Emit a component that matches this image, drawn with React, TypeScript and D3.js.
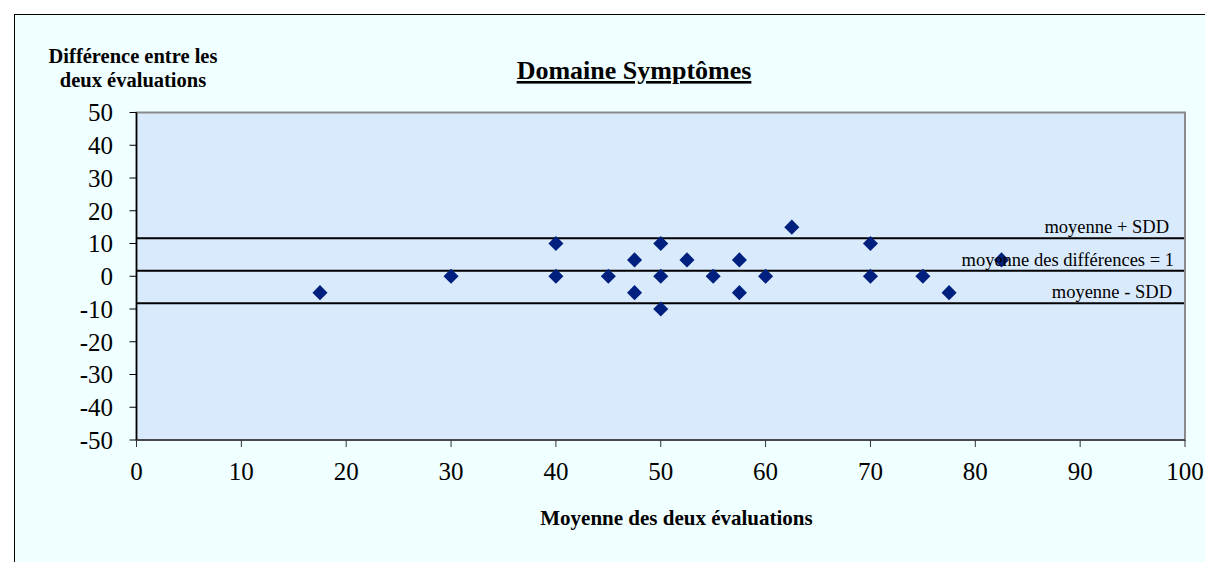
import React from "react";
import * as d3 from "d3";

const xValues = [17.5, 30, 40, 40, 45, 47.5, 47.5, 50, 50, 50, 52.5, 55, 57.5, 57.5, 60, 62.5, 70, 70, 75, 77.5, 82.5];
const yValues = [-5, 0, 10, 0, 0, 5, -5, 10, 0, -10, 5, 0, 5, -5, 0, 15, 10, 0, 0, -5, 5];
const xTicks = [0, 10, 20, 30, 40, 50, 60, 70, 80, 90, 100];
const yTicks = [50, 40, 30, 20, 10, 0, -10, -20, -30, -40, -50];
const meanDiff = 1.67;
const sdd = 9.93;
const refLines = [
  { value: meanDiff + sdd, label: "moyenne + SDD" },
  { value: meanDiff, label: "moyenne des différences = 1" },
  { value: meanDiff - sdd, label: "moyenne - SDD" },
];

const W = 1205;
const H = 562;
const plot = { left: 136.5, right: 1185, top: 112.5, bottom: 440 };
const FONT = "Liberation Serif, Times New Roman, serif";

export default function App() {
  const x = d3.scaleLinear().domain([0, 100]).range([plot.left, plot.right]);
  const y = d3.scaleLinear().domain([-50, 50]).range([plot.bottom, plot.top]);
  const diamond = d3.symbol().type(d3.symbolDiamond2 || d3.symbolSquare).size(145);

  return (
    <svg
      width={W}
      height={H}
      style={{ position: "absolute", left: 0, top: 0, display: "block", fontFamily: FONT }}
    >
      <rect x={0} y={0} width={W} height={H} fill="#ffffff" />
      <rect x={14.5} y={14.5} width={W + 10} height={H + 10} fill="#F0FFFF" stroke="#000" strokeWidth={1} />

      {/* plot area */}
      <rect
        x={plot.left}
        y={plot.top}
        width={plot.right - plot.left}
        height={plot.bottom - plot.top}
        fill="#D9EAFC"
        stroke="#8A8A8A"
        strokeWidth={2}
      />

      {/* axes */}
      <line x1={plot.left} x2={plot.left} y1={plot.top} y2={plot.bottom} stroke="#000" strokeWidth={1.5} />
      <line x1={plot.left} x2={plot.right} y1={plot.bottom} y2={plot.bottom} stroke="#333" strokeWidth={1.5} />

      {yTicks.map((t) => (
        <g key={"y" + t}>
          <line x1={plot.left - 7} x2={plot.left} y1={y(t)} y2={y(t)} stroke="#000" strokeWidth={1} />
          <text x={113} y={y(t)} dy="0.35em" textAnchor="end" fontSize={25} fill="#000" fontFamily={FONT}>
            {t}
          </text>
        </g>
      ))}
      {xTicks.map((t) => (
        <g key={"x" + t}>
          <line x1={x(t)} x2={x(t)} y1={plot.bottom} y2={plot.bottom + 7} stroke="#333" strokeWidth={1} />
          <text x={x(t)} y={480} textAnchor="middle" fontSize={25} fill="#000" fontFamily={FONT}>
            {t}
          </text>
        </g>
      ))}

      {/* reference lines */}
      {refLines.map((r) => (
        <g key={r.label}>
          <line x1={plot.left} x2={plot.right - 1} y1={y(r.value)} y2={y(r.value)} stroke="#000" strokeWidth={2} />
        </g>
      ))}

      {/* points */}
      {xValues.map((xv, i) => (
        <path
          key={"p" + i}
          d={diamond() as string}
          transform={`translate(${x(xv)},${y(yValues[i])})`}
          fill="#00207F"
        />
      ))}

      {/* line labels */}
      <text x={1169} y={233} textAnchor="end" fontSize={18.5} fill="#000" fontFamily={FONT}>
        {refLines[0].label}
      </text>
      <text x={1174} y={265.5} textAnchor="end" fontSize={18.5} fill="#000" fontFamily={FONT}>
        {refLines[1].label}
      </text>
      <text x={1172} y={297.5} textAnchor="end" fontSize={18.5} fill="#000" fontFamily={FONT}>
        {refLines[2].label}
      </text>

      {/* titles */}
      <text x={634} y={79} textAnchor="middle" fontSize={26} fontWeight="bold" textDecoration="underline" fill="#000" fontFamily={FONT}>
        Domaine Symptômes
      </text>
      <text x={133} y={62.5} textAnchor="middle" fontSize={20.5} fontWeight="bold" fill="#000" fontFamily={FONT}>
        Différence entre les
      </text>
      <text x={133} y={87} textAnchor="middle" fontSize={20.5} fontWeight="bold" fill="#000" fontFamily={FONT}>
        deux évaluations
      </text>
      <text x={676.5} y={525} textAnchor="middle" fontSize={21} fontWeight="bold" fill="#000" fontFamily={FONT}>
        Moyenne des deux évaluations
      </text>
    </svg>
  );
}
